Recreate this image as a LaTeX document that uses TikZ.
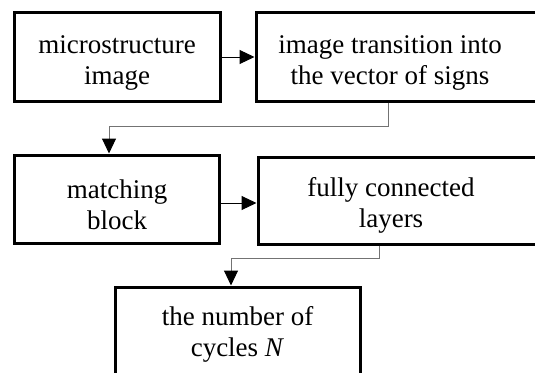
\documentclass[tikz,border=0pt]{standalone}
\usepackage{fontspec}
\setmainfont{Liberation Serif}
\usetikzlibrary{arrows.meta}
\begin{document}
\begin{tikzpicture}[x=1pt,y=-1pt,
  box/.style={draw=black,line width=3pt,rectangle,inner sep=0pt},
  lbl/.style={align=center,font=\fontsize{27}{31}\selectfont,inner sep=0pt},
  conn/.style={draw=black!55,line width=1pt},
  hconn/.style={draw=black,line width=1pt},
  tip/.style={-{Triangle[length=15pt,width=14pt,color=black]}}]
\useasboundingbox (0,0) rectangle (535,372);
% boxes
\node[box,minimum width=206pt,minimum height=89pt] (b1) at (117,56.5) {};
\node[box,minimum width=294pt,minimum height=89pt] (b2) at (403,56.5) {};
\node[box,minimum width=205pt,minimum height=88pt] (b3) at (116.5,199) {};
\node[box,minimum width=292pt,minimum height=87pt] (b4) at (404,200.5) {};
\node[box,minimum width=245pt,minimum height=113pt] (b5) at (237.5,343.5) {};
% labels
\node[lbl] (t1) at (117,63) {microstructure\\image};
\node[lbl] (t2) at (390,63) {image transition into\\the vector of signs};
\node[lbl] (t3) at (117,205) {matching\\block};
\node[lbl] (t4) at (391,205) {fully connected\\layers};
\node[lbl] (t5) at (237.5,334) {the number of\\cycles \textit{N}};
% connectors
\coordinate (c1) at (388,126);
\coordinate (c2) at (109,126);
\coordinate (c3) at (379,258);
\coordinate (c4) at (231,258);
\draw[hconn,tip] (b1.east |- 0,57) -- (b2.west |- 0,57);
\draw[hconn,tip] (b3.east |- 0,203) -- (b4.west |- 0,203);
\draw[conn] (b2.south -| c1) -- (c1) -- (c2);
\draw[conn,tip] (c2) -- (b3.north -| c2);
\draw[conn] (b4.south -| c3) -- (c3) -- (c4);
\draw[conn,tip] (c4) -- (b5.north -| c4);
\end{tikzpicture}
\end{document}
